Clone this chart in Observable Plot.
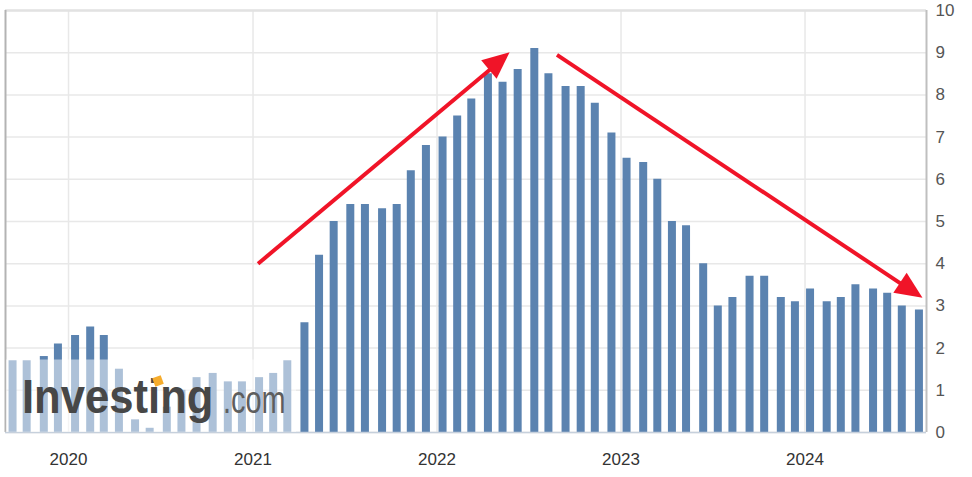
<!DOCTYPE html>
<html><head><meta charset="utf-8">
<script src="https://cdn.jsdelivr.net/npm/d3@7"></script>
<script src="https://cdn.jsdelivr.net/npm/@observablehq/plot@0.6"></script>
<style>html,body{margin:0;padding:0;background:#fff;}#chart{width:972px;height:477px;}</style>
</head><body><div id="chart"></div>
<script>
// Release dates of each monthly reading
const releaseDates = [
  "2019-09-12","2019-10-10","2019-11-13","2019-12-11",
  "2020-01-14","2020-02-13","2020-03-11","2020-04-10","2020-05-12","2020-06-10","2020-07-14","2020-08-12","2020-09-11","2020-10-13","2020-11-12","2020-12-10",
  "2021-01-13","2021-02-10","2021-03-10","2021-04-13","2021-05-12","2021-06-10","2021-07-13","2021-08-11","2021-09-14","2021-10-13","2021-11-10","2021-12-10",
  "2022-01-12","2022-02-10","2022-03-10","2022-04-12","2022-05-11","2022-06-10","2022-07-13","2022-08-10","2022-09-13","2022-10-13","2022-11-10","2022-12-13",
  "2023-01-12","2023-02-14","2023-03-14","2023-04-12","2023-05-10","2023-06-13","2023-07-12","2023-08-10","2023-09-13","2023-10-12","2023-11-14","2023-12-12",
  "2024-01-11","2024-02-13","2024-03-12","2024-04-10","2024-05-15","2024-06-12","2024-07-11","2024-08-14"
];
const cpiValues = [
  1.7, 1.7, 1.8, 2.1,
  2.3, 2.5, 2.3, 1.5, 0.3, 0.1, 0.6, 1.0, 1.3, 1.4, 1.2, 1.2,
  1.3, 1.4, 1.7, 2.6, 4.2, 5.0, 5.4, 5.4, 5.3, 5.4, 6.2, 6.8,
  7.0, 7.5, 7.9, 8.5, 8.3, 8.6, 9.1, 8.5, 8.2, 8.2, 7.8, 7.1,
  6.5, 6.4, 6.0, 5.0, 4.9, 4.0, 3.0, 3.2, 3.7, 3.7, 3.2, 3.1,
  3.4, 3.1, 3.2, 3.5, 3.4, 3.3, 3.0, 2.9
];
const yearTicks = ["2020-01-01","2021-01-01","2022-01-01","2023-01-01","2024-01-01"];
const yTicks = [0,1,2,3,4,5,6,7,8,9,10];
const xDomain = ["2019-08-29","2024-08-29"];
const yDomain = [0, 10];
// Annotation arrows (data coordinates)
const arrowStartDates = ["2021-01-11","2022-08-27"];
const arrowStartValues = [4.0, 8.95];
const arrowEndDates = ["2022-05-26","2024-08-22"];
const arrowEndValues = [9.0, 3.18];

const P = s => new Date(s + "T00:00:00Z");
const bars = releaseDates.map((d, i) => ({date: P(d), value: cpiValues[i]}));
const arrows = arrowStartDates.map((d, i) => ({
  x1: P(d), y1: arrowStartValues[i], x2: P(arrowEndDates[i]), y2: arrowEndValues[i]
}));
const years = yearTicks.map(P);

const barColor = "#5b83b0";
const red = "#f01428";

const plot = Plot.plot({
  width: 972, height: 477,
  marginLeft: 5, marginRight: 46, marginTop: 10, marginBottom: 45,
  style: {fontFamily: "'Liberation Sans', Arial, sans-serif", fontSize: "17px", background: "#fff"},
  x: {type: "utc", domain: xDomain.map(P)},
  y: {domain: yDomain},
  marks: [
    Plot.gridY(yTicks, {stroke: "#e8e8e8", strokeOpacity: 1, strokeWidth: 1.5}),
    Plot.gridX(years, {stroke: "#e8e8e8", strokeOpacity: 1, strokeWidth: 1.5}),
    Plot.ruleY([10], {stroke: "#e2e2e2", strokeWidth: 2.5}),
    Plot.ruleX([P(xDomain[0])], {stroke: "#b3b3b3", strokeWidth: 2}),
    Plot.ruleX([P(xDomain[1])], {stroke: "#bfbfbf", strokeWidth: 2}),
    Plot.ruleX(bars, {x: "date", y: "value", stroke: barColor, strokeWidth: 8}),
    Plot.ruleY([0], {stroke: "#c6d0dc", strokeWidth: 1.5}),
    Plot.axisY({anchor: "right", ticks: yTicks, tickSize: 0, tickPadding: 9, fontSize: 17, fill: "#555", label: null}),
    Plot.axisX({ticks: years, tickFormat: d3.utcFormat("%Y"), tickSize: 0, tickPadding: 20, fontSize: 17, fill: "#333", label: null}),
    Plot.arrow(arrows, {x1: "x1", y1: "y1", x2: "x2", y2: "y2", stroke: red, strokeWidth: 4, headLength: 0, insetEnd: 14, strokeLinecap: "butt"})
  ]
});
document.getElementById("chart").appendChild(plot);

const svg = d3.select(plot);
// Watermark (decoration over the lower-left corner)
const wm = svg.append("g").attr("class", "watermark").attr("text-anchor", "start");
wm.append("rect").attr("x", 6).attr("y", 359.5).attr("width", 290).attr("height", 72.5)
  .attr("fill", "#fff").attr("fill-opacity", 0.5);
wm.append("text").attr("text-anchor", "start").attr("transform", "translate(22,413) scale(0.89,1)")
  .attr("font-family", "'Liberation Sans', Arial, sans-serif")
  .attr("font-weight", "bold").attr("font-size", 49).attr("fill", "#474747").text("Investing");
wm.append("text").attr("text-anchor", "start").attr("transform", "translate(223,413) scale(0.76,1)")
  .attr("font-family", "'Liberation Sans', Arial, sans-serif")
  .attr("font-size", 38).attr("fill", "#5e5e5e").text(".com");
wm.append("rect").attr("x", -4.5).attr("y", -4.5).attr("width", 9).attr("height", 9)
  .attr("fill", "#f6ac2c").attr("transform", "translate(158,381) rotate(-20)");

// Filled arrowheads at the arrow tips, positioned with Plot's scales
const sx = plot.scale("x"), sy = plot.scale("y");
const headLen = 27, headHalf = 12;
arrows.forEach(a => {
  const X1 = sx.apply(a.x1), Y1 = sy.apply(a.y1), X2 = sx.apply(a.x2), Y2 = sy.apply(a.y2);
  const L = Math.hypot(X2 - X1, Y2 - Y1), ux = (X2 - X1) / L, uy = (Y2 - Y1) / L;
  const bx = X2 - ux * headLen, by = Y2 - uy * headLen;
  const pts = [[X2, Y2], [bx - uy * headHalf, by + ux * headHalf], [bx + uy * headHalf, by - ux * headHalf]];
  svg.append("polygon").attr("points", pts.map(p => p.join(",")).join(" ")).attr("fill", red);
});
</script>
</body></html>
